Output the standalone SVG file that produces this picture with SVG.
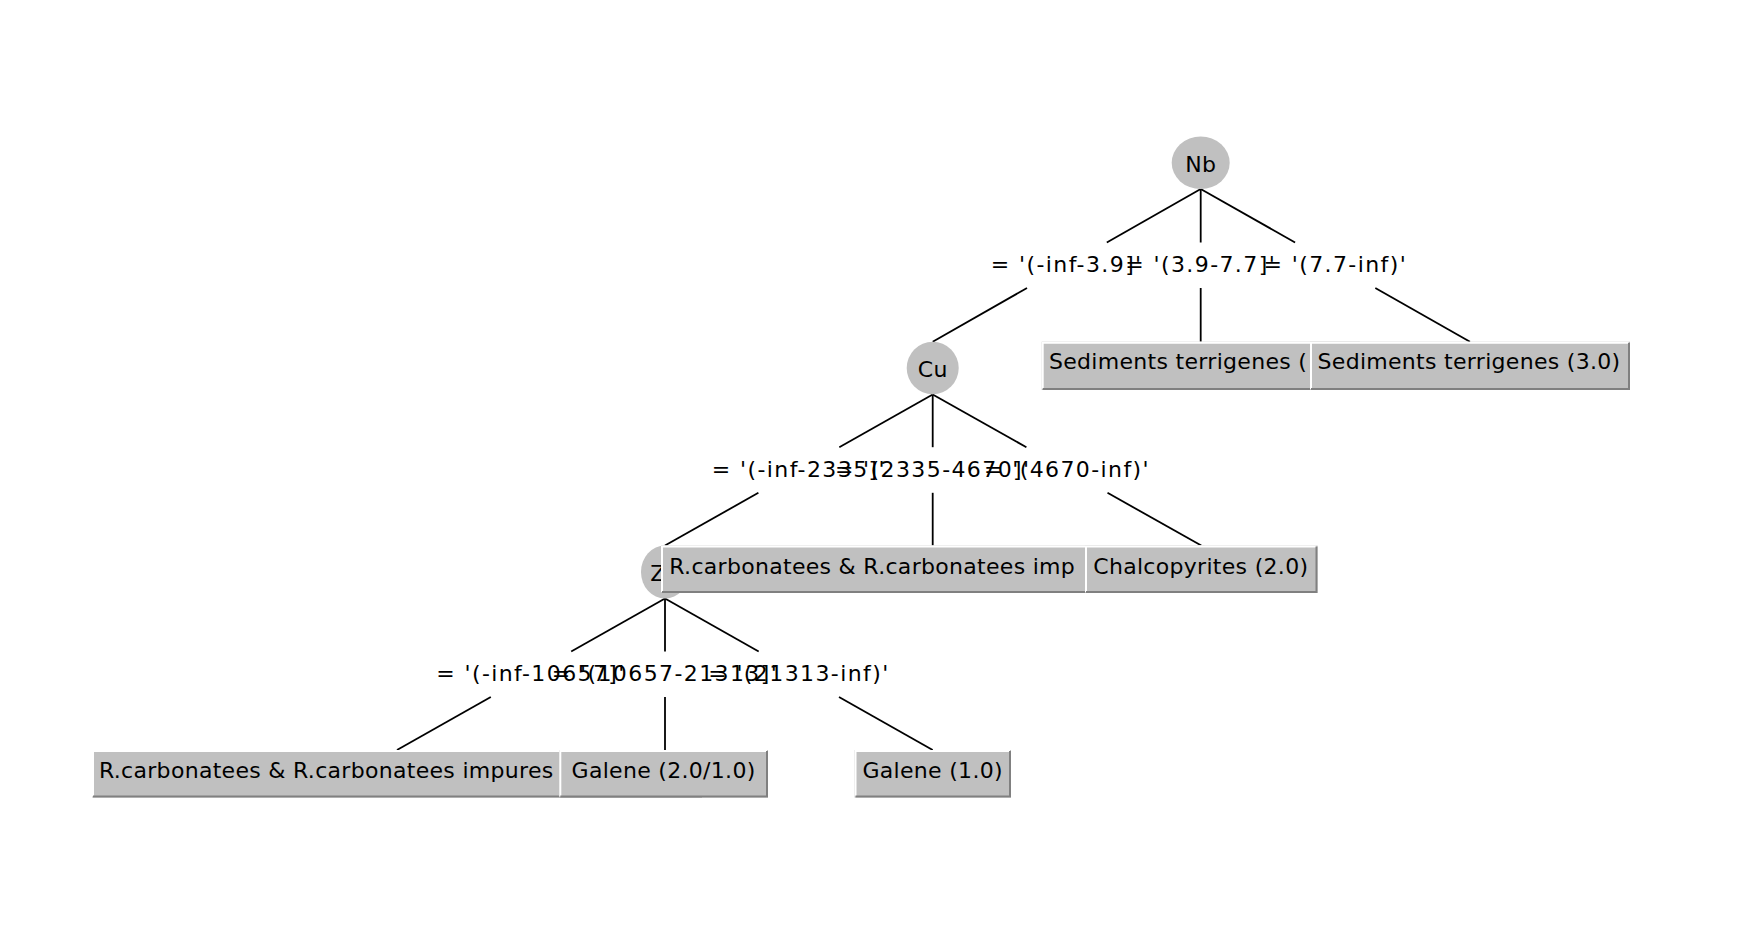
<svg xmlns="http://www.w3.org/2000/svg" width="1740" height="928" viewBox="0 0 1740 928">
<style>
.bg{fill:#ffffff}
.node ellipse{fill:#c0c0c0;stroke:none}
.ntext{font-family:"DejaVu Sans",sans-serif;font-size:22px;letter-spacing:0.3px;fill:#000;text-anchor:middle}
.leaf rect{fill:#c0c0c0;stroke:none}
.hi{fill:none;stroke:#ffffff;stroke-width:2}
.lo{fill:none;stroke:#808080;stroke-width:2}
.ltext{font-family:"DejaVu Sans",sans-serif;font-size:22px;letter-spacing:0.3px;fill:#000}
.elabel{font-family:"DejaVu Sans",sans-serif;font-size:22px;letter-spacing:1.4px;fill:#000;text-anchor:middle}
#edges line{stroke:#000;stroke-width:1.8}
</style>
<rect class="bg" x="0" y="0" width="1740" height="928"/>

<g id="edges">
  <line x1="1200.7" y1="189" x2="1106.8" y2="242.5"/>
  <line x1="1027" y1="288" x2="932.7" y2="341.7"/>
  <line x1="1200.7" y1="189" x2="1200.7" y2="242.5"/>
  <line x1="1200.7" y1="288" x2="1200.7" y2="341.7"/>
  <line x1="1200.7" y1="189" x2="1295.1" y2="242.5"/>
  <line x1="1375.3" y1="288" x2="1470" y2="341.7"/>
  <line x1="932.7" y1="394.5" x2="839.3" y2="447.2"/>
  <line x1="758.4" y1="492.8" x2="665" y2="545.5"/>
  <line x1="932.7" y1="394.5" x2="932.7" y2="447.2"/>
  <line x1="932.7" y1="492.8" x2="932.7" y2="545.5"/>
  <line x1="932.7" y1="394.5" x2="1026.4" y2="447.2"/>
  <line x1="1107.5" y1="492.8" x2="1201.25" y2="545.5"/>
  <line x1="665" y1="598.5" x2="571.2" y2="651.5"/>
  <line x1="490.8" y1="697" x2="397" y2="750"/>
  <line x1="665" y1="598.5" x2="665" y2="651.5"/>
  <line x1="665" y1="697" x2="665" y2="750"/>
  <line x1="665" y1="598.5" x2="758.7" y2="651.5"/>
  <line x1="839" y1="697" x2="932.7" y2="750"/>
</g>

<g id="edge-labels">
  <text class="elabel" x="1066.7" y="272.3">= '(-inf-3.9]'</text>
  <text class="elabel" x="1200.7" y="272.3">= '(3.9-7.7]'</text>
  <text class="elabel" x="1335.3" y="272.3">= '(7.7-inf)'</text>
  <text class="elabel" x="798.9" y="476.5">= '(-inf-2335]'</text>
  <text class="elabel" x="932.7" y="476.5">= '(2335-4670]'</text>
  <text class="elabel" x="1067" y="476.5">= '(4670-inf)'</text>
  <text class="elabel" x="531" y="681">= '(-inf-10657]'</text>
  <text class="elabel" x="665" y="681">= '(10657-21313]'</text>
  <text class="elabel" x="798.9" y="681">= '(21313-inf)'</text>
</g>

<g id="node-nb" class="node">
  <ellipse cx="1200.7" cy="162.8" rx="29" ry="26.3"/>
  <text class="ntext" x="1200.7" y="171.5">Nb</text>
</g>
<g id="node-cu" class="node">
  <ellipse cx="932.7" cy="368" rx="26" ry="26.3"/>
  <text class="ntext" x="932.7" y="377">Cu</text>
</g>
<g id="node-zn" class="node">
  <ellipse cx="665" cy="572" rx="24" ry="26.5"/>
  <text class="ntext" x="665" y="581">Zn</text>
</g>

<g id="leaf-rcarb-impures" class="leaf">
  <rect x="92" y="750" width="610" height="47.5"/>
  <path class="hi" d="M93 796.5V751H701"/>
  <path class="lo" d="M93 796.5H701V751"/>
  <text class="ltext" x="99" y="778">R.carbonatees &amp; R.carbonatees impures</text>
</g>
<g id="leaf-galene-21" class="leaf">
  <rect x="559.3" y="750" width="208.7" height="47.5"/>
  <path class="hi" d="M560.3 796.5V751H767"/>
  <path class="lo" d="M560.3 796.5H767V751"/>
  <text class="ltext" x="663.6" y="778" text-anchor="middle">Galene (2.0/1.0)</text>
</g>
<g id="leaf-galene-1" class="leaf">
  <rect x="854.5" y="750" width="156.5" height="47.5"/>
  <path class="hi" d="M855.5 796.5V751H1010"/>
  <path class="lo" d="M855.5 796.5H1010V751"/>
  <text class="ltext" x="932.7" y="778" text-anchor="middle">Galene (1.0)</text>
</g>

<g id="leaf-rcarb-imp" class="leaf">
  <rect x="661" y="545.5" width="543.4" height="47.5"/>
  <path class="hi" d="M662 592V546.5H1203.4"/>
  <path class="lo" d="M662 592H1203.4V546.5"/>
  <text class="ltext" x="669.3" y="573.5">R.carbonatees &amp; R.carbonatees imp</text>
</g>
<g id="leaf-chalco" class="leaf">
  <rect x="1085" y="545.5" width="232.5" height="47.5"/>
  <path class="hi" d="M1086 592V546.5H1316.5"/>
  <path class="lo" d="M1086 592H1316.5V546.5"/>
  <text class="ltext" x="1200.8" y="573.5" text-anchor="middle">Chalcopyrites (2.0)</text>
</g>

<g id="leaf-sed-a" class="leaf">
  <rect x="1041.7" y="341.7" width="318" height="48.3"/>
  <path class="hi" d="M1042.7 389V342.7H1358.7"/>
  <path class="lo" d="M1042.7 389H1358.7V342.7"/>
  <text class="ltext" x="1049" y="369">Sediments terrigenes (</text>
</g>
<g id="leaf-sed-b" class="leaf">
  <rect x="1310" y="341.7" width="320" height="48.3"/>
  <path class="hi" d="M1311 389V342.7H1629"/>
  <path class="lo" d="M1311 389H1629V342.7"/>
  <text class="ltext" x="1469" y="369" text-anchor="middle">Sediments terrigenes (3.0)</text>
</g>
</svg>
